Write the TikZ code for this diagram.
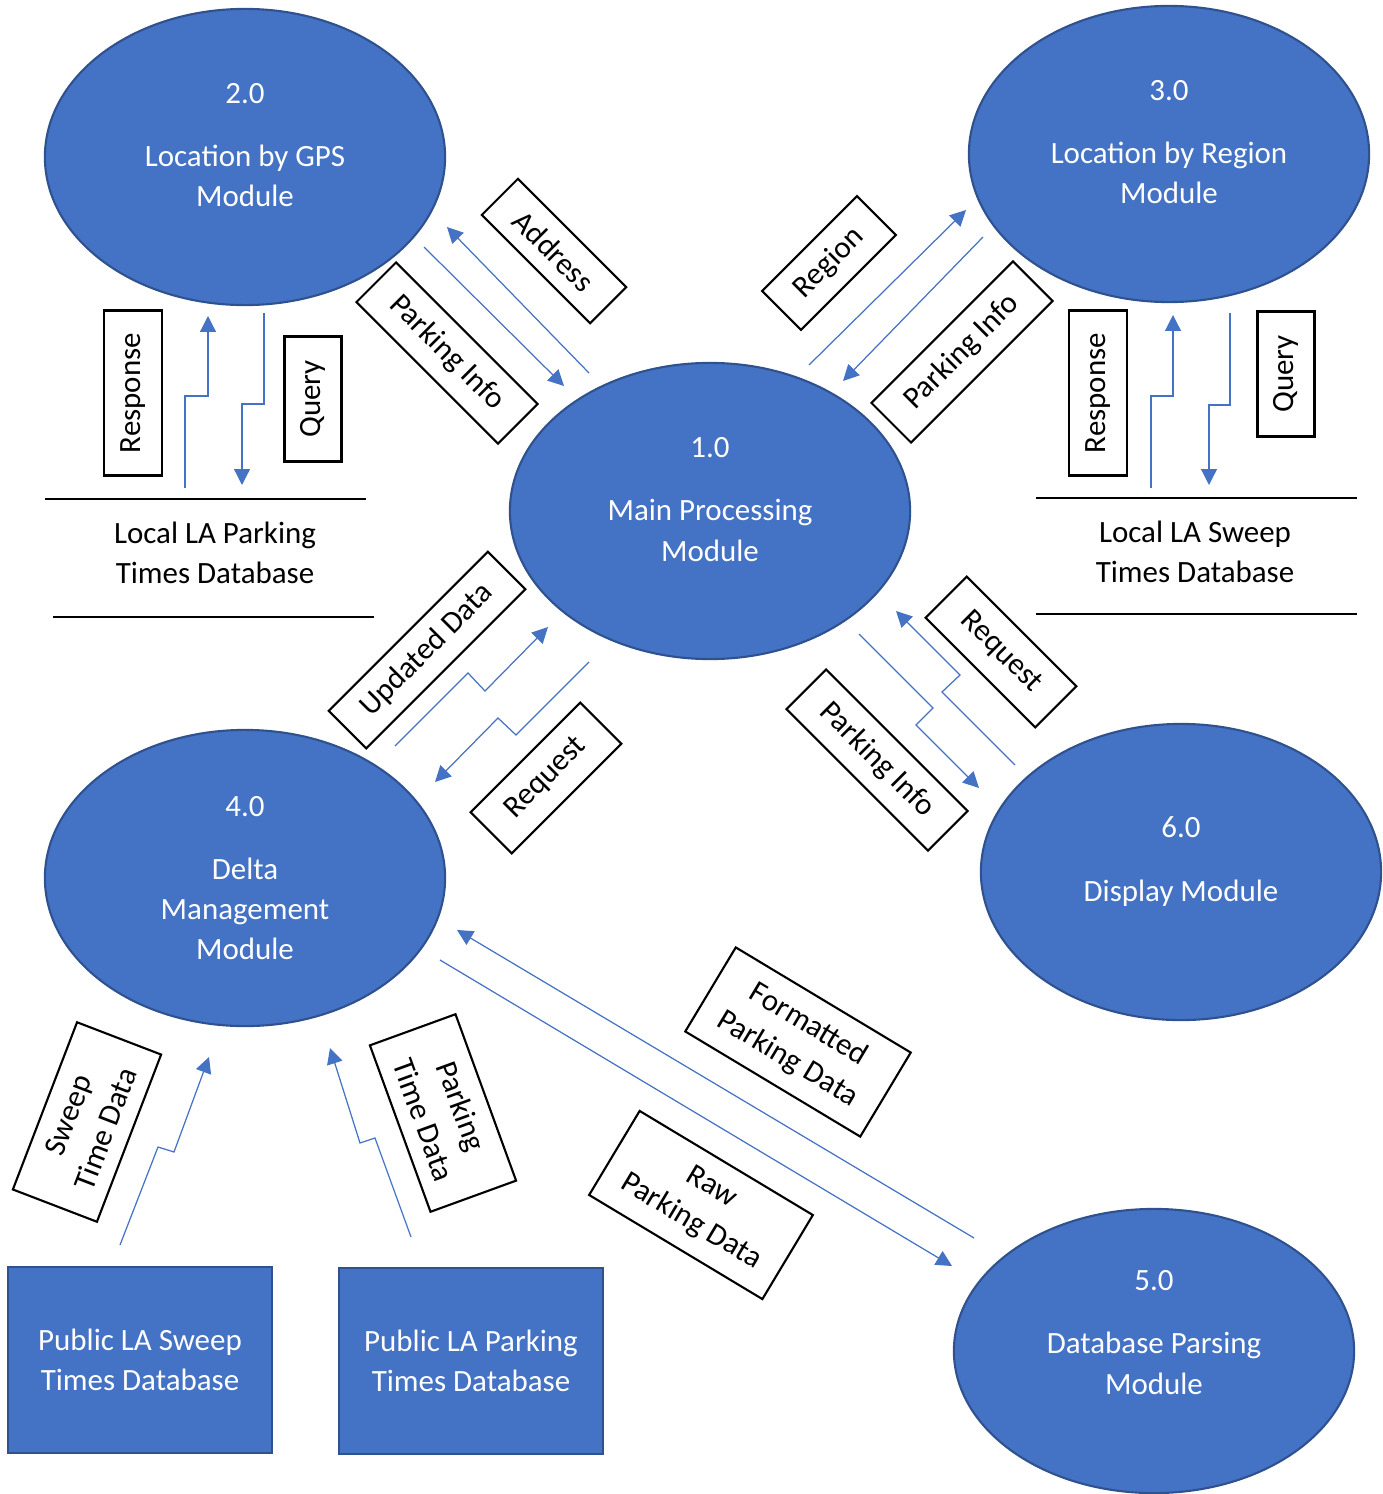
\documentclass[tikz,border=0pt]{standalone}
\usepackage{fontspec}
\setmainfont{Carlito}
\usetikzlibrary{arrows.meta,shapes.geometric}
\definecolor{procblue}{HTML}{4472C4}
\definecolor{procedge}{HTML}{2F528F}

\begin{document}
\begin{tikzpicture}[x=0.01cm,y=-0.01cm,
proc/.style={ellipse,draw=procedge,line width=0.6pt,fill=procblue,minimum width=4cm,minimum height=2.96cm,inner sep=0pt},
ptext/.style={text=white,align=center,font=\fontsize{8.8}{11.4}\selectfont},
stext/.style={align=center,font=\fontsize{8.8}{11.4}\selectfont},
store/.style={rectangle,draw=procedge,line width=0.6pt,fill=procblue,minimum width=2.64cm,minimum height=1.86cm,ptext},
flow/.style={rectangle,draw,line width=0.6pt,fill=white,align=center,font=\fontsize{8.8}{11.4}\selectfont,inner sep=0pt},
dflow/.style={draw=procblue,line width=0.35pt,-{Triangle[length=4.5pt,width=4.5pt]}}]
\useasboundingbox (0,0) rectangle (1383,1494);

% processes
\node[proc] (gps) at (245,157) {};
\node[ptext] (gpsT) at (245,145) {2.0\\[0.23cm]Location by GPS\\Module};
\node[proc] (region) at (1169,154) {};
\node[ptext] (regionT) at (1169,142) {3.0\\[0.23cm]Location by Region\\Module};
\node[proc] (main) at (710,511) {};
\node[ptext] (mainT) at (710,499.5) {1.0\\[0.23cm]Main Processing\\Module};
\node[proc] (delta) at (245,878) {};
\node[ptext] (deltaT) at (245,878) {4.0\\[0.23cm]Delta\\Management\\Module};
\node[proc] (disp) at (1181,872) {};
\node[ptext] (dispT) at (1181,861.5) {6.0\\[0.23cm]Display Module};
\node[proc,minimum height=2.84cm] (parse) at (1154,1351) {};
\node[ptext] (parseT) at (1154,1332.5) {5.0\\[0.23cm]Database Parsing\\Module};

% external sources
\node[store] (sweepDB) at (140,1360) {Public LA Sweep\\Times Database};
\node[store] (parkDB) at (471,1361) {Public LA Parking\\Times Database};

% data stores
\node[stext] (localPark) at (215,553) {Local LA Parking\\Times Database};
\draw[line width=0.4pt] (45,499) -- (366,499);
\draw[line width=0.4pt] (53,617) -- (374,617);
\node[stext] (localSweep) at (1195,552) {Local LA Sweep\\Times Database};
\draw[line width=0.4pt] (1036,498) -- (1357,498);
\draw[line width=0.4pt] (1036,614) -- (1357,614);

% flow labels
\node[flow,rotate=90,minimum width=1.65cm,minimum height=0.58cm] (gpsResp) at (133,393) {Response};
\node[flow,rotate=90,minimum width=1.25cm,minimum height=0.57cm] (gpsQuery) at (313,399) {Query};
\node[flow,rotate=90,minimum width=1.65cm,minimum height=0.58cm] (regResp) at (1098,393) {Response};
\node[flow,rotate=90,minimum width=1.25cm,minimum height=0.57cm] (regQuery) at (1286,374) {Query};
\node[flow,rotate=-45,minimum width=1.53cm,minimum height=0.51cm] (addr) at (554,251) {Address};
\node[flow,rotate=-45,minimum width=2.0cm,minimum height=0.56cm] (gpsInfo) at (447,353) {Parking Info};
\node[flow,rotate=45,minimum width=1.34cm,minimum height=0.55cm] (regLbl) at (829,263) {Region};
\node[flow,rotate=45,minimum width=2.0cm,minimum height=0.56cm] (regInfo) at (962,352) {Parking Info};
\node[flow,rotate=45,minimum width=2.25cm,minimum height=0.53cm] (upd) at (427,650) {Updated Data};
\node[flow,rotate=45,minimum width=1.55cm,minimum height=0.58cm] (reqL) at (546,778) {Request};
\node[flow,rotate=-45,minimum width=1.55cm,minimum height=0.58cm] (reqR) at (1001,652) {Request};
\node[flow,rotate=-45,minimum width=2.0cm,minimum height=0.56cm] (dispInfo) at (877,760) {Parking Info};
\node[flow,rotate=69,minimum width=1.79cm,minimum height=0.9cm] (sweepTD) at (87,1122) {Sweep\\Time Data};
\node[flow,rotate=-70,minimum width=1.77cm,minimum height=0.91cm] (parkTD) at (443,1113) {Parking\\Time Data};
\node[flow,rotate=-31,minimum width=2.04cm,minimum height=0.98cm] (fmt) at (798,1042) {Formatted\\Parking Data};
\node[flow,rotate=-31,minimum width=2.02cm,minimum height=0.98cm] (raw) at (701,1205) {Raw\\Parking Data};

% flow ends
\coordinate (gpsR1) at (185,488);
\coordinate (gpsR2) at (208,316);
\coordinate (gpsQ1) at (264,313);
\coordinate (gpsQ2) at (242,485);
\coordinate (regR1) at (1151,488);
\coordinate (regR2) at (1173,315);
\coordinate (regQ1) at (1230,313);
\coordinate (regQ2) at (1209,485);
\coordinate (addrA) at (589,373);
\coordinate (addrB) at (447,227);
\coordinate (gpsIA) at (424,247);
\coordinate (gpsIB) at (564,386);
\coordinate (regA) at (809,365);
\coordinate (regB) at (966,210);
\coordinate (regIA) at (983,237);
\coordinate (regIB) at (843,381);
\coordinate (updA) at (395,746);
\coordinate (updB) at (548,627);
\coordinate (reqLA) at (589,662);
\coordinate (reqLB) at (435,782);
\coordinate (reqRA) at (1015,765);
\coordinate (reqRB) at (896,611);
\coordinate (dispA) at (859,634);
\coordinate (dispB) at (979,788);
\coordinate (swA) at (120,1245);
\coordinate (swB) at (209,1057);
\coordinate (ptA) at (411,1237);
\coordinate (ptB) at (330,1048);
\coordinate (fmtA) at (974,1238);
\coordinate (fmtB) at (457,930);
\coordinate (rawA) at (440,960);
\coordinate (rawB) at (952,1266);

% flows
\draw[dflow] (gpsR1) -- ++(0,-92) -| (gpsR2);
\draw[dflow] (gpsQ1) -- ++(0,91) -| (gpsQ2);
\draw[dflow] (regR1) -- ++(0,-92) -| (regR2);
\draw[dflow] (regQ1) -- ++(0,92) -| (regQ2);
\draw[dflow] (addrA) -- (addrB);
\draw[dflow] (gpsIA) -- (gpsIB);
\draw[dflow] (regA) -- (regB);
\draw[dflow] (regIA) -- (regIB);
\draw[dflow] (updA) -- ++(73,-73) -- ++(17,18) -- (updB);
\draw[dflow] (reqLA) -- ++(-73,73) -- ++(-18,-17) -- (reqLB);
\draw[dflow] (reqRA) -- ++(-73,-73) -- ++(18,-17) -- (reqRB);
\draw[dflow] (dispA) -- ++(74,74) -- ++(-17,17) -- (dispB);
\draw[dflow] (swA) -- ++(38,-98) -- ++(16,5) -- (swB);
\draw[dflow] (ptA) -- ++(-36,-99) -- ++(-15,5) -- (ptB);
\draw[dflow] (fmtA) -- (fmtB);
\draw[dflow] (rawA) -- (rawB);
\end{tikzpicture}
\end{document}
